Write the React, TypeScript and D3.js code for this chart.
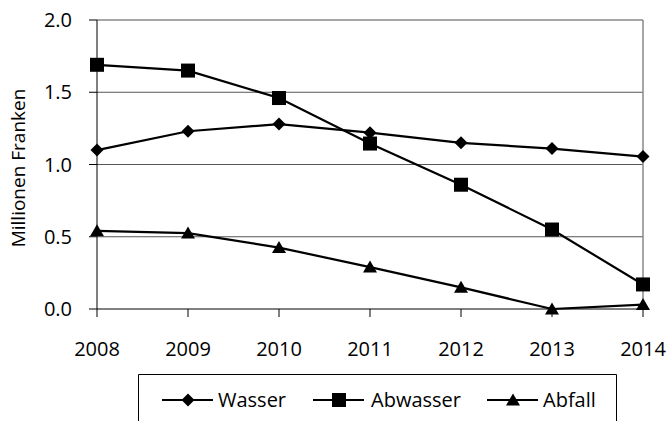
import React from "react";
import * as d3 from "d3";

const years = ["2008", "2009", "2010", "2011", "2012", "2013", "2014"];
const wasser = [1.1, 1.23, 1.28, 1.22, 1.15, 1.11, 1.055];
const abwasser = [1.69, 1.65, 1.46, 1.145, 0.86, 0.55, 0.17];
const abfall = [0.54, 0.525, 0.425, 0.29, 0.15, 0.0, 0.03];
const yTicks = [0, 0.5, 1.0, 1.5, 2.0];
const seriesNames = ["Wasser", "Abwasser", "Abfall"];

const W = 668, H = 421;
const left = 97, right = 643, top = 20, bottom = 309;
const FONT = "'Open Sans', sans-serif";

function Marker({ type, x, y }: { type: string; x: number; y: number }) {
  if (type === "diamond") {
    const r = 6.5;
    return <path d={`M${x},${y - r}L${x + r},${y}L${x},${y + r}L${x - r},${y}Z`} fill="#000" />;
  }
  if (type === "square") {
    const s = 7;
    return <rect x={x - s} y={y - s} width={2 * s} height={2 * s} fill="#000" />;
  }
  const w = 7, h = 12;
  return <path d={`M${x},${y - h * 0.55}L${x + w},${y + h * 0.45}L${x - w},${y + h * 0.45}Z`} fill="#000" />;
}

export default function App() {
  const x = d3.scalePoint<string>().domain(years).range([left, right]);
  const y = d3.scaleLinear().domain([0, 2]).range([bottom, top]);
  const line = d3
    .line<number>()
    .x((_, i) => x(years[i]) as number)
    .y((d) => y(d));
  const series = [
    { name: seriesNames[0], data: wasser, marker: "diamond" },
    { name: seriesNames[1], data: abwasser, marker: "square" },
    { name: seriesNames[2], data: abfall, marker: "triangle" },
  ];
  const legendItems = [
    { x0: 162, tx: 218 },
    { x0: 313, tx: 371 },
    { x0: 487, tx: 543 },
  ];
  const ly = 400;
  return (
    <svg width={W} height={H} style={{ position: "absolute", left: 0, top: 0 }} fontFamily={FONT}>
      <rect width={W} height={H} fill="#fff" />
      {yTicks.map((t) =>
        t > 0 && t < 2 ? (
          <line key={"g" + t} x1={left} x2={right} y1={y(t)} y2={y(t)} stroke="#555" strokeWidth={1} />
        ) : null
      )}
      <line x1={left} x2={right} y1={top} y2={top} stroke="#888" strokeWidth={1.5} />
      <line x1={right} x2={right} y1={top} y2={bottom} stroke="#888" strokeWidth={1.5} />
      <line x1={left} x2={left} y1={top} y2={bottom} stroke="#000" strokeWidth={1} />
      <line x1={left} x2={right} y1={bottom} y2={bottom} stroke="#000" strokeWidth={1} />
      {yTicks.map((t) => (
        <g key={"y" + t}>
          <line x1={left - 8} x2={left} y1={y(t)} y2={y(t)} stroke="#000" />
          <text x={72} y={y(t)} dy="0.36em" textAnchor="end" fontSize={20} fill="#000">
            {t.toFixed(1)}
          </text>
        </g>
      ))}
      {years.map((yr) => (
        <g key={yr}>
          <line x1={x(yr)} x2={x(yr)} y1={bottom} y2={bottom + 8} stroke="#000" />
          <text x={x(yr)} y={356} textAnchor="middle" fontSize={20} fill="#000">
            {yr}
          </text>
        </g>
      ))}
      <text
        transform={`translate(18,168) rotate(-90)`}
        textAnchor="middle"
        dy="0.36em"
        fontSize={19}
        fill="#000"
      >
        Millionen Franken
      </text>
      {series.map((s) => (
        <g key={s.name}>
          <path d={line(s.data) || ""} fill="none" stroke="#000" strokeWidth={2.2} />
          {s.data.map((v, i) => (
            <Marker key={i} type={s.marker} x={x(years[i]) as number} y={y(v)} />
          ))}
        </g>
      ))}
      <path d={`M138.5,${H + 2}V374.5H616.5V${H + 2}`} fill="none" stroke="#000" strokeWidth={1} />
      {series.map((s, i) => (
        <g key={"l" + s.name}>
          <line x1={legendItems[i].x0} x2={legendItems[i].x0 + 51} y1={ly} y2={ly} stroke="#000" strokeWidth={2.2} />
          <Marker type={s.marker} x={legendItems[i].x0 + 26} y={ly} />
          <text x={legendItems[i].tx} y={ly} dy="0.36em" fontSize={20} fill="#000">
            {s.name}
          </text>
        </g>
      ))}
    </svg>
  );
}
